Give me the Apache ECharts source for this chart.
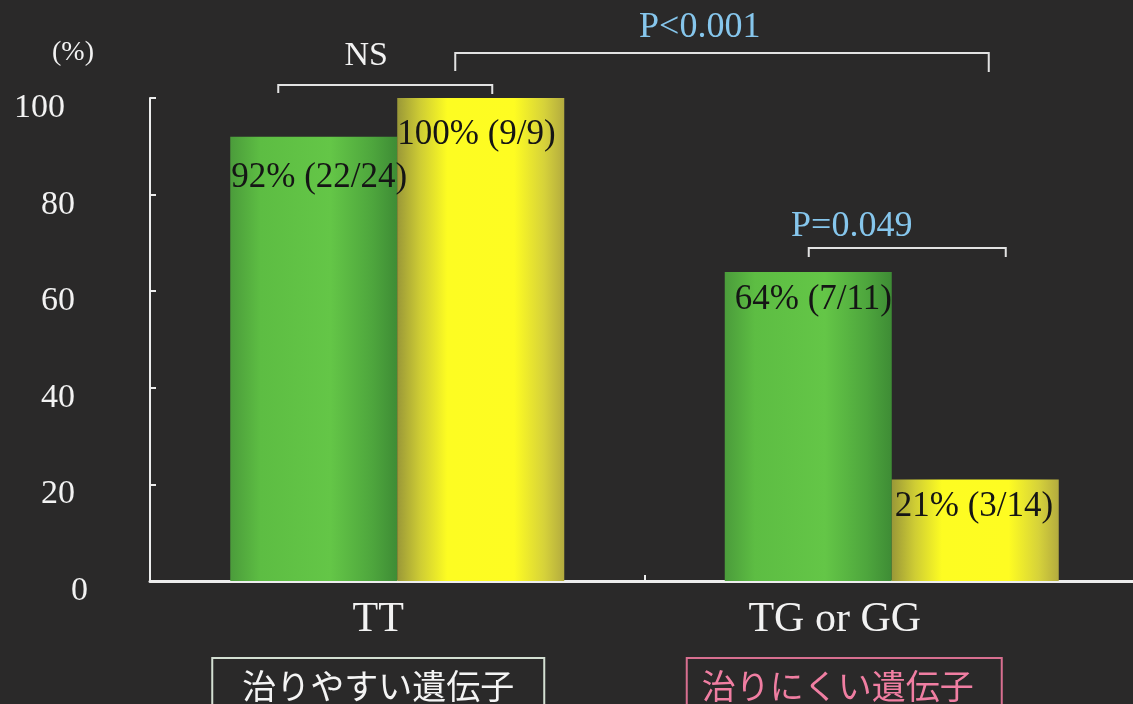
<!DOCTYPE html>
<html>
<head>
<meta charset="utf-8">
<script src="https://cdn.jsdelivr.net/npm/echarts@6/dist/echarts.min.js"></script>
<style>
  html, body { margin: 0; padding: 0; background: #2a2929; }
  #chart { width: 1133px; height: 704px; }
</style>
</head>
<body>
<div id="chart"></div>
<script>
// Genotype groups and their response rates
const categories = ['TT', 'TG or GG'];
const geneGroups = ['治りやすい遺伝子', '治りにくい遺伝子'];

// Green series: responders / patients and rate (%)
const greenResponders = [22, 7];
const greenTotals = [24, 11];
const greenRates = [92, 64];

// Yellow series: responders / patients and rate (%)
const yellowResponders = [9, 3];
const yellowTotals = [9, 14];
const yellowRates = [100, 21];

// Value axis ticks
const yTicks = [0, 20, 40, 60, 80, 100];

// Significance annotations
const sigLabels = ['NS', 'P<0.001', 'P=0.049'];

const SERIF = '"Liberation Serif", "DejaVu Serif", serif';
const JP = '"Noto Sans CJK JP", sans-serif';

const greenFill = new echarts.graphic.LinearGradient(0, 0, 1, 0, [
  { offset: 0, color: '#4b9c3b' },
  { offset: 0.18, color: '#5dbd43' },
  { offset: 0.6, color: '#64c647' },
  { offset: 0.85, color: '#4ea63d' },
  { offset: 1, color: '#3e8c35' }
]);
const yellowFill = new echarts.graphic.LinearGradient(0, 0, 1, 0, [
  { offset: 0, color: '#9a9838' },
  { offset: 0.14, color: '#cfcd34' },
  { offset: 0.3, color: '#fdfc22' },
  { offset: 0.7, color: '#fefc22' },
  { offset: 0.88, color: '#d6d23a' },
  { offset: 1, color: '#b3ab3f' }
]);

// label placement inside each bar (relative to the bar's top-left corner)
const greenLabelPos = [[1, 24], [10, 10]];
const yellowLabelPos = [[0, 19], [3, 10]];

function barData(rates, n, tot, pos) {
  return rates.map((v, i) => ({
    value: v,
    label: {
      position: pos[i],
      formatter: v + '% (' + n[i] + '/' + tot[i] + ')'
    }
  }));
}

const barLabel = {
  show: true,
  align: 'left',
  verticalAlign: 'top',
  color: '#151515',
  fontFamily: SERIF,
  fontSize: 35
};

const chart = echarts.init(document.getElementById('chart'), null, { renderer: 'canvas' });

const yRich = {
  h: { fontFamily: SERIF, fontSize: 34, color: '#f2f2f2', padding: [20, 23, 0, 0] },
  m: { fontFamily: SERIF, fontSize: 34, color: '#f2f2f2', padding: [20, 13, 0, 0] },
  z: { fontFamily: SERIF, fontSize: 34, color: '#f2f2f2', padding: [20, 0, 0, 0] }
};

chart.setOption({
  backgroundColor: '#2a2929',
  animation: false,
  grid: { left: 150, top: 98, width: 989, bottom: 123, containLabel: false, outerBoundsMode: 'none' },
  xAxis: {
    type: 'category',
    data: categories,
    axisLine: { lineStyle: { color: '#ededed', width: 3 } },
    axisTick: { show: true, inside: true, length: 6, lineStyle: { color: '#ededed', width: 2 } },
    axisLabel: {
      margin: 18,
      formatter: v => v === categories[0] ? '{a|' + v + '}' : '{b|' + v + '}',
      rich: {
        a: { fontFamily: SERIF, fontSize: 42, color: '#f2f2f2', padding: [0, 38, 0, 0] },
        b: { fontFamily: SERIF, fontSize: 42, color: '#f2f2f2', padding: [0, 114, 0, 0] }
      }
    },
    splitLine: { show: false }
  },
  yAxis: {
    type: 'value',
    min: 0,
    max: 100,
    interval: 20,
    name: '(%)',
    nameLocation: 'end',
    nameGap: 45,
    nameTextStyle: {
      fontFamily: SERIF, fontSize: 28, color: '#f2f2f2',
      align: 'right', verticalAlign: 'middle', padding: [0, 56, 0, 0]
    },
    axisLine: { show: true, lineStyle: { color: '#ededed', width: 2 } },
    axisTick: { show: true, inside: true, length: 6, lineStyle: { color: '#ededed', width: 2 } },
    axisLabel: {
      margin: 62,
      formatter: v => {
        if (yTicks.indexOf(v) < 0) return '';
        if (v === 100) return '{h|' + v + '}';
        if (v === 0) return '{z|' + v + '}';
        return '{m|' + v + '}';
      },
      rich: yRich
    },
    splitLine: { show: false }
  },
  series: [
    {
      type: 'bar',
      barWidth: 167,
      barGap: '0%',
      itemStyle: { color: greenFill },
      label: barLabel,
      data: barData(greenRates, greenResponders, greenTotals, greenLabelPos)
    },
    {
      type: 'bar',
      barWidth: 167,
      barGap: '0%',
      itemStyle: { color: yellowFill },
      label: barLabel,
      data: barData(yellowRates, yellowResponders, yellowTotals, yellowLabelPos)
    }
  ]
});

// Brackets, p-values and genotype boxes, placed from the axes' own pixel mapping
const cx = categories.map(c => chart.convertToPixel({ xAxisIndex: 0 }, c));
const yTop = chart.convertToPixel({ yAxisIndex: 0 }, 100);

const bracketStyle = { stroke: '#e2e2e2', lineWidth: 2, fill: null };
const pStyle = { fontFamily: SERIF, fontSize: 36, fill: '#86c6ec', align: 'center', verticalAlign: 'middle' };

function bracket(x1, x2, y, legL, legR) {
  return {
    type: 'polyline',
    shape: { points: [[x1, y + legL], [x1, y], [x2, y], [x2, y + legR]] },
    style: bracketStyle,
    silent: true
  };
}

chart.setOption({
  graphic: [
    bracket(cx[0] - 119, cx[0] + 95, yTop - 13, 8, 9),
    { type: 'text', x: cx[0] - 31, y: yTop - 42,
      style: Object.assign({}, pStyle, { text: sigLabels[0], fill: '#f2f2f2', fontSize: 34 }) },
    bracket(cx[0] + 58, cx[1] + 97, yTop - 45, 18, 19),
    { type: 'text', x: cx[1] - 192, y: yTop - 70,
      style: Object.assign({}, pStyle, { text: sigLabels[1] }) },
    bracket(cx[1] - 83, cx[1] + 114, yTop + 150, 9, 9),
    { type: 'text', x: cx[1] - 40, y: yTop + 129,
      style: Object.assign({}, pStyle, { text: sigLabels[2] }) },
    { type: 'rect', shape: { x: cx[0] - 185, y: 658, width: 332, height: 70 },
      style: { stroke: '#d3dfd2', lineWidth: 2, fill: null } },
    { type: 'text', x: cx[0] - 19, y: 686,
      style: { text: geneGroups[0], fontFamily: JP, fontSize: 34, fill: '#f4f4f4', align: 'center', verticalAlign: 'middle' } },
    { type: 'rect', shape: { x: cx[1] - 205, y: 658, width: 315, height: 70 },
      style: { stroke: '#d86f90', lineWidth: 2, fill: null } },
    { type: 'text', x: cx[1] - 54, y: 686,
      style: { text: geneGroups[1], fontFamily: JP, fontSize: 34, fill: '#f07ea2', align: 'center', verticalAlign: 'middle' } }
  ]
});
</script>
</body>
</html>
